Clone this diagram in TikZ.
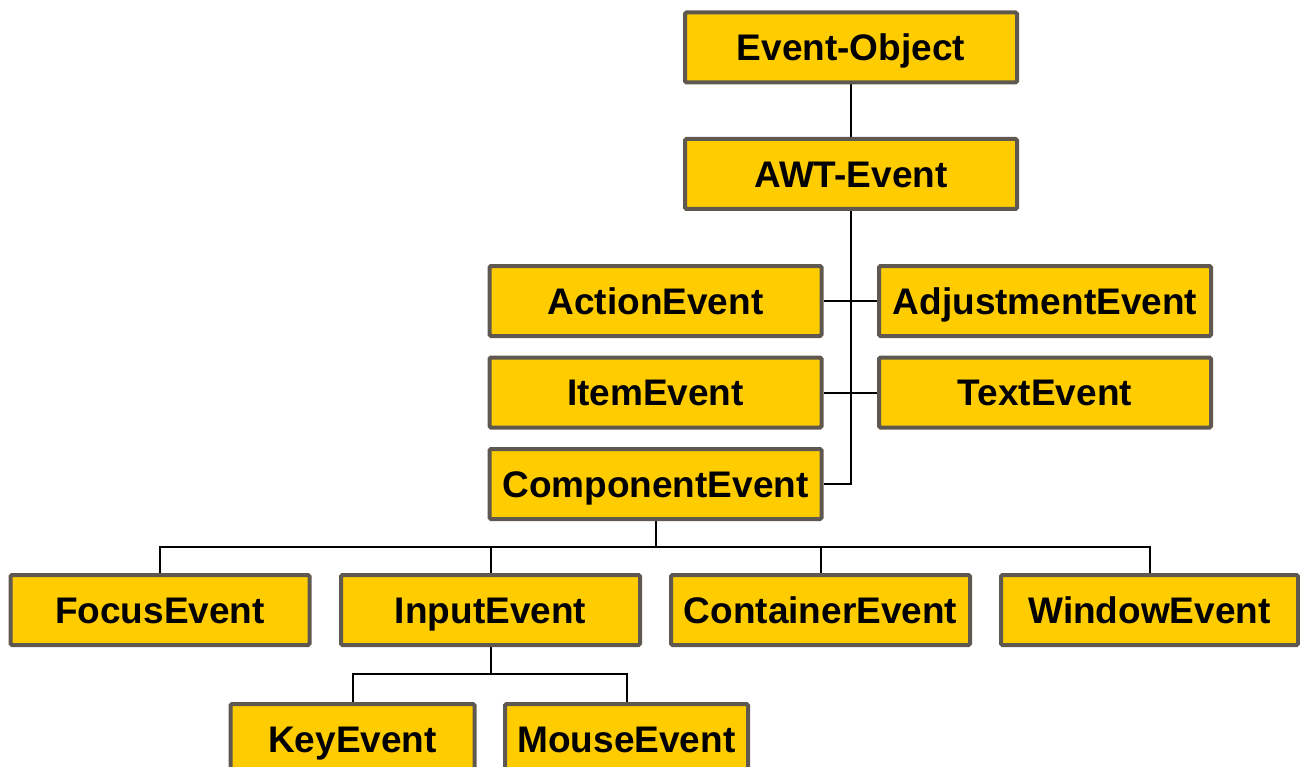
\documentclass[tikz,border=0pt]{standalone}
\usepackage{fontspec}
\setmainfont{Liberation Sans}
\usetikzlibrary{backgrounds}
\definecolor{boxfill}{HTML}{FFCC00}
\definecolor{boxline}{HTML}{5F5850}
\tikzset{
  evbox/.style={draw=boxline, fill=boxfill, line width=4pt, rounded corners=1.5pt,
    inner sep=0pt, minimum height=70pt, text height=26.5pt, text depth=0pt,
    font=\fontsize{37}{44}\selectfont\bfseries},
  wide/.style={evbox, minimum width=332pt},
  narrow/.style={evbox, minimum width=299pt},
  link/.style={draw=black, line width=2pt}
}
\begin{document}
\begin{tikzpicture}[x=1pt, y=-1pt]
\useasboundingbox (0,0) rectangle (1300,767);
\clip (0,0) rectangle (1300,767);

% class boxes
\node[wide] (obj) at (851,47.5) {Event-Object};
\node[wide] (awt) at (851,174) {AWT-Event};
\node[wide] (act) at (655.5,301) {ActionEvent};
\node[wide] (adj) at (1045,301) {AdjustmentEvent};
\node[wide] (item) at (655.5,392.5) {ItemEvent};
\node[wide] (text) at (1045,392.5) {TextEvent};
\node[wide] (comp) at (655.5,484) {ComponentEvent};
\node[narrow] (focus) at (160,610) {FocusEvent};
\node[narrow] (input) at (490.5,610) {InputEvent};
\node[narrow] (cont) at (820.5,610) {ContainerEvent};
\node[narrow, minimum width=297pt] (win) at (1149.5,610) {WindowEvent};
\node[evbox, minimum width=244pt] (key) at (352.5,739) {KeyEvent};
\node[evbox, minimum width=243pt] (mouse) at (626.5,739) {MouseEvent};

% bus points of the tree
\coordinate (cbus) at (655.5,547);
\coordinate (ibus) at (490.5,674);

% inheritance lines, behind the boxes
\begin{scope}[on background layer]
\draw[link] (obj.south) -- (awt.north);
\draw[link] (awt.south) |- (comp.east);
\draw[link] (act.east) -- (adj.west);
\draw[link] (item.east) -- (text.west);
\draw[link] (comp.south) -- (cbus);
\draw[link] (cbus) -| (focus.north);
\draw[link] (cbus) -| (input.north);
\draw[link] (cbus) -| (cont.north);
\draw[link] (cbus) -| (win.north);
\draw[link] (input.south) -- (ibus);
\draw[link] (ibus) -| (key.north);
\draw[link] (ibus) -| (mouse.north);
\end{scope}
\end{tikzpicture}
\end{document}
